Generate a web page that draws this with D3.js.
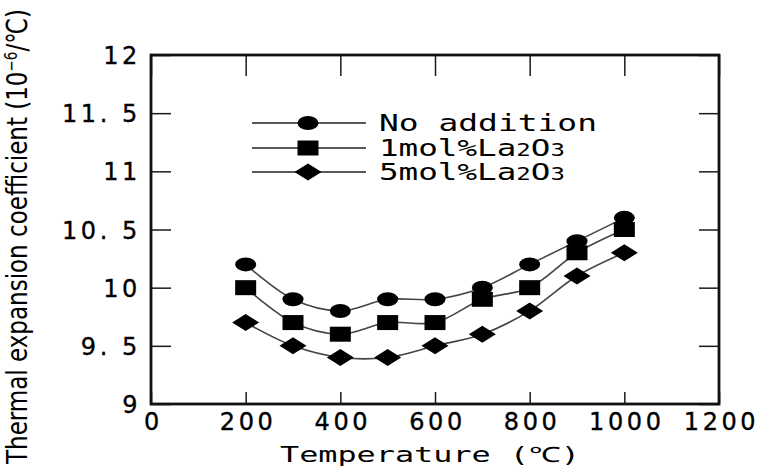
<!DOCTYPE html>
<html>
<head>
<meta charset="utf-8">
<script src="https://cdn.jsdelivr.net/npm/d3@7"></script>
<style>
  body { margin: 0; background: #fff; }
  svg { display: block; }
</style>
</head>
<body>
<div id="chart"></div>
<script>
// Data
const temps = [200, 300, 400, 500, 600, 700, 800, 900, 1000];
const noAddition = [10.2, 9.9, 9.8, 9.9, 9.9, 10.0, 10.2, 10.4, 10.6];
const la1 = [10.0, 9.7, 9.6, 9.7, 9.7, 9.9, 10.0, 10.3, 10.5];
const la5 = [9.7, 9.5, 9.4, 9.4, 9.5, 9.6, 9.8, 10.1, 10.3];
const xTicks = [0, 200, 400, 600, 800, 1000, 1200];
const yTicks = [9, 9.5, 10, 10.5, 11, 11.5, 12];
const yTickLabels = ['9', '9. 5', '10', '10. 5', '11', '11. 5', '12'];

const series = [
  { name: 'No addition', values: noAddition, shape: 'circle' },
  { name: '1mol%La2O3', values: la1, shape: 'square' },
  { name: '5mol%La2O3', values: la5, shape: 'diamond' }
];

const w = 759;
const h = 469;
const plotLeft = 151, plotRight = 719, plotTop = 55, plotBottom = 404;

const svg = d3.select('#chart').append('svg')
    .attr('width', w)
    .attr('height', h);

const xScale = d3.scaleLinear().domain([0, 1200]).range([plotLeft, plotRight]);
const yScale = d3.scaleLinear().domain([9, 12]).range([plotBottom, plotTop]);

const tickFont = '"DejaVu Sans", sans-serif';

// axes, ticks pointing inward
const gx = svg.append('g')
    .attr('transform', 'translate(0,' + plotBottom + ')')
    .call(d3.axisBottom(xScale).tickValues(xTicks).tickSize(-12).tickPadding(9).tickFormat(d3.format('d')));
const gxTop = svg.append('g')
    .attr('transform', 'translate(0,' + plotTop + ')')
    .call(d3.axisTop(xScale).tickValues(xTicks).tickSize(-21).tickFormat(''));
const gy = svg.append('g')
    .attr('transform', 'translate(' + plotLeft + ',0)')
    .call(d3.axisLeft(yScale).tickValues(yTicks).tickSize(-20).tickPadding(10)
        .tickFormat((d, i) => yTickLabels[i]));
const gyRight = svg.append('g')
    .attr('transform', 'translate(' + plotRight + ',0)')
    .call(d3.axisRight(yScale).tickValues(yTicks).tickSize(-20).tickFormat(''));

[gx, gxTop, gy, gyRight].forEach(function(g) {
  g.select('.domain').remove();
  g.selectAll('.tick line').attr('stroke', '#1a1a1a').attr('stroke-width', 1.5);
  g.selectAll('text')
      .attr('fill', '#000')
      .attr('stroke', '#000')
      .attr('stroke-width', 0.35)
      .style('font-family', tickFont)
      .style('font-size', '24px')
      .style('letter-spacing', '3.6px');
});
gx.selectAll('text').attr('dy', '0.71em').attr('dx', '2px');
gy.selectAll('text').attr('dy', '0.36em');

// frame
svg.append('rect')
    .attr('x', plotLeft)
    .attr('y', plotTop)
    .attr('width', plotRight - plotLeft)
    .attr('height', plotBottom - plotTop)
    .attr('fill', 'none')
    .attr('stroke', '#111')
    .attr('stroke-width', 2.8);

// lines
const line = d3.line()
    .x((d, i) => xScale(temps[i]))
    .y((d) => yScale(d))
    .curve(d3.curveCatmullRom);

svg.selectAll('path.series')
    .data(series)
    .enter()
    .append('path')
    .attr('class', 'series')
    .attr('d', (d) => line(d.values))
    .attr('fill', 'none')
    .attr('stroke', '#444')
    .attr('stroke-width', 1.6);

// marker drawing
function drawMarker(g, shape, cx, cy) {
  if (shape === 'circle') {
    g.append('ellipse').attr('cx', cx).attr('cy', cy).attr('rx', 10.5).attr('ry', 7).attr('fill', '#000');
  } else if (shape === 'square') {
    g.append('rect').attr('x', cx - 10.5).attr('y', cy - 7.5).attr('width', 21).attr('height', 15).attr('fill', '#000');
  } else {
    g.append('path')
        .attr('d', 'M' + (cx - 13.5) + ',' + cy + 'L' + cx + ',' + (cy - 8.5) +
          'L' + (cx + 13.5) + ',' + cy + 'L' + cx + ',' + (cy + 8.5) + 'Z')
        .attr('fill', '#000');
  }
}

const markers = svg.append('g');
series.forEach(function(s) {
  s.values.forEach(function(v, i) {
    drawMarker(markers, s.shape, xScale(temps[i]), yScale(v));
  });
});

// legend
const legendFont = '"DejaVu Sans Mono", "Liberation Mono", monospace';
const legendRows = [123, 148, 172];
const legend = svg.append('g');
series.forEach(function(s, i) {
  const y = legendRows[i];
  legend.append('line')
      .attr('x1', 252).attr('x2', 366)
      .attr('y1', y).attr('y2', y)
      .attr('stroke', '#222')
      .attr('stroke-width', 1.4);
  drawMarker(legend, s.shape, 308, y);
  const t = legend.append('text')
      .attr('x', 379)
      .attr('y', y + 8)
      .attr('fill', '#000')
      .style('font-family', legendFont)
      .style('font-size', '23px');
  if (i === 0) {
    t.text(s.name).attr('textLength', 218).attr('lengthAdjust', 'spacingAndGlyphs');
  } else {
    const head = s.name.slice(0, 7);
    t.attr('textLength', 186).attr('lengthAdjust', 'spacingAndGlyphs');
    t.append('tspan').text(head);
    t.append('tspan').text('2').style('font-size', '17px');
    t.append('tspan').text('O').style('font-size', '23px');
    t.append('tspan').text('3').style('font-size', '17px');
  }
});

// axis titles
svg.append('text')
    .attr('x', 280)
    .attr('y', 462)
    .attr('textLength', 300)
    .attr('lengthAdjust', 'spacingAndGlyphs')
    .attr('fill', '#000')
    .style('font-family', legendFont)
    .style('font-size', '21px')
    .text('Temperature (℃)');

const yTitle = svg.append('text')
    .attr('transform', 'translate(27,464) rotate(-90)')
    .attr('textLength', 455)
    .attr('lengthAdjust', 'spacingAndGlyphs')
    .attr('fill', '#000')
    .style('font-family', '"Liberation Sans Narrow", "DejaVu Sans Condensed", sans-serif')
    .style('font-size', '29px');
yTitle.append('tspan').text('Thermal expansion coefficient (10');
yTitle.append('tspan').text('−6').attr('dy', -10).style('font-size', '17px');
yTitle.append('tspan').text('/℃)').attr('dy', 10);
</script>
</body>
</html>
